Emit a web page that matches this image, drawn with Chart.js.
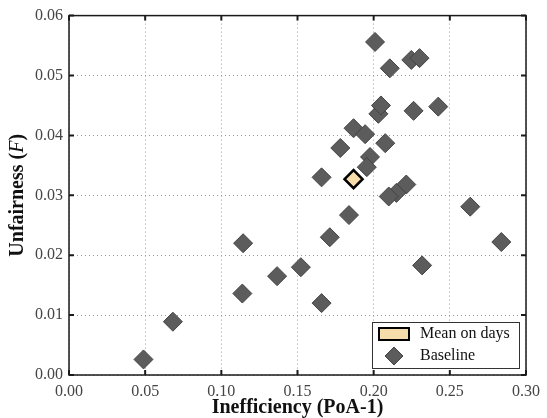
<!DOCTYPE html>
<html>
<head>
<meta charset="utf-8">
<script src="https://cdn.jsdelivr.net/npm/chart.js@4.4.1/dist/chart.umd.min.js"></script>
<style>
  html, body { margin: 0; padding: 0; background: #fff; }
  #wrap { width: 547px; height: 418px; }
</style>
</head>
<body>
<div id="wrap"><canvas id="chart" width="547" height="418"></canvas></div>
<script>
// Baseline runs: inefficiency (PoA-1) against unfairness F
var baselineX = [0.0489, 0.0682, 0.1138, 0.1143, 0.1366, 0.1522, 0.1658, 0.1712, 0.1838, 0.2318,
                 0.2634, 0.2838, 0.1868, 0.1944, 0.1781, 0.2076, 0.1976, 0.1955, 0.1658, 0.2214,
                 0.2149, 0.2099, 0.2031, 0.2048, 0.2262, 0.2424, 0.2009, 0.2106, 0.2247, 0.2301];
var baselineY = [0.0026, 0.0089, 0.0136, 0.0220, 0.0165, 0.0180, 0.0120, 0.0230, 0.0267, 0.0183,
                 0.0281, 0.0222, 0.0412, 0.0402, 0.0379, 0.0387, 0.0364, 0.0347, 0.0330, 0.0318,
                 0.0304, 0.0298, 0.0436, 0.0450, 0.0441, 0.0448, 0.0556, 0.0512, 0.0526, 0.0529];
var meanX = [0.1868];
var meanY = [0.0327];
var xTicks = [0, 0.05, 0.10, 0.15, 0.20, 0.25, 0.30];
var yTicks = [0, 0.01, 0.02, 0.03, 0.04, 0.05, 0.06];

var SERIF = '"Liberation Serif", "DejaVu Serif", serif';

function toPoints(xs, ys) {
    return xs.map(function(x, i) { return { x: x, y: ys[i] }; });
}

// frame on all four sides with inward ticks (matplotlib classic look)
var frame = {
    id: 'frame',
    afterDatasetsDraw: function(chart) {
        var ctx = chart.ctx, a = chart.chartArea;
        var sx = chart.scales.x, sy = chart.scales.y;
        ctx.save();
        ctx.strokeStyle = '#1a1a1a';
        ctx.lineWidth = 1.5;
        ctx.strokeRect(a.left, a.top, a.right - a.left, a.bottom - a.top);
        ctx.lineWidth = 2;
        ctx.beginPath();
        xTicks.forEach(function(v) {
            var px = sx.getPixelForValue(v);
            ctx.moveTo(px, a.bottom); ctx.lineTo(px, a.bottom - 5);
            ctx.moveTo(px, a.top); ctx.lineTo(px, a.top + 5);
        });
        yTicks.forEach(function(v) {
            var py = sy.getPixelForValue(v);
            ctx.moveTo(a.left, py); ctx.lineTo(a.left + 5, py);
            ctx.moveTo(a.right, py); ctx.lineTo(a.right - 5, py);
        });
        ctx.stroke();
        ctx.restore();
    }
};

// y title with the italic F
var yTitle = {
    id: 'yTitle',
    afterDraw: function(chart) {
        var ctx = chart.ctx, a = chart.chartArea;
        var parts = [
            { t: 'Unfairness (', f: 'bold 20px ' + SERIF },
            { t: 'F', f: 'italic 20px ' + SERIF },
            { t: ')', f: 'bold 20px ' + SERIF }
        ];
        ctx.save();
        ctx.translate(18, (a.top + a.bottom) / 2);
        ctx.rotate(-Math.PI / 2);
        ctx.fillStyle = '#111';
        ctx.textBaseline = 'middle';
        var total = 0;
        parts.forEach(function(p) { ctx.font = p.f; p.w = ctx.measureText(p.t).width; total += p.w; });
        var x = -total / 2;
        parts.forEach(function(p) { ctx.font = p.f; ctx.fillText(p.t, x, 0); x += p.w; });
        ctx.restore();
    }
};

// boxed legend in the lower right corner
var boxLegend = {
    id: 'boxLegend',
    afterDraw: function(chart) {
        var ctx = chart.ctx, a = chart.chartArea;
        var ds = chart.data.datasets;
        var w = 147, h = 46;
        var x0 = a.right - 7 - w, y0 = a.bottom - 7 - h;
        ctx.save();
        ctx.fillStyle = '#fff';
        ctx.fillRect(x0, y0, w, h);
        ctx.strokeStyle = '#333';
        ctx.lineWidth = 1;
        ctx.strokeRect(x0 + 0.5, y0 + 0.5, w, h);

        // mean: patch swatch
        ctx.fillStyle = ds[0].backgroundColor;
        ctx.fillRect(x0 + 7, y0 + 6, 30, 12);
        ctx.strokeStyle = '#000';
        ctx.lineWidth = 2;
        ctx.strokeRect(x0 + 7, y0 + 6, 30, 12);

        // baseline: diamond marker
        var cx = x0 + 22, cy = y0 + 34, r = 9;
        ctx.beginPath();
        ctx.moveTo(cx, cy - r); ctx.lineTo(cx + r, cy); ctx.lineTo(cx, cy + r); ctx.lineTo(cx - r, cy);
        ctx.closePath();
        ctx.fillStyle = ds[1].backgroundColor;
        ctx.fill();
        ctx.strokeStyle = ds[1].borderColor;
        ctx.lineWidth = 1;
        ctx.stroke();

        ctx.fillStyle = '#111';
        ctx.font = '16px ' + SERIF;
        ctx.textBaseline = 'middle';
        ctx.fillText(ds[0].label, x0 + 48, y0 + 12);
        ctx.fillText(ds[1].label, x0 + 48, y0 + 34);
        ctx.restore();
    }
};

new Chart(document.getElementById('chart'), {
    type: 'scatter',
    data: {
        datasets: [{
            label: 'Mean on days',
            data: toPoints(meanX, meanY),
            pointStyle: 'rectRot',
            pointRadius: 9,
            pointHoverRadius: 9,
            backgroundColor: '#f6dcab',
            borderColor: '#000',
            borderWidth: 2.5
        }, {
            label: 'Baseline',
            data: toPoints(baselineX, baselineY),
            pointStyle: 'rectRot',
            pointRadius: 9.5,
            pointHoverRadius: 9.5,
            backgroundColor: '#5c5c5c',
            borderColor: '#444',
            borderWidth: 1
        }]
    },
    options: {
        responsive: false,
        animation: false,
        events: [],
        layout: { padding: { left: 0, right: 16, top: 14, bottom: 0 } },
        plugins: { legend: { display: false }, tooltip: { enabled: false } },
        scales: {
            x: {
                type: 'linear',
                min: 0, max: 0.30,
                afterBuildTicks: function(scale) { scale.ticks = xTicks.map(function(v) { return { value: v }; }); },
                afterFit: function(scale) { scale.height = 43; },
                grid: { color: '#9a9a9a', lineWidth: 1, drawTicks: false },
                border: { display: false, dash: [1, 3] },
                ticks: {
                    padding: 7,
                    color: '#444',
                    font: { family: SERIF, size: 16 },
                    callback: function(v) { return v.toFixed(2); }
                },
                title: {
                    display: true,
                    text: 'Inefficiency (PoA-1)',
                    color: '#111',
                    padding: { top: 0, bottom: 0 },
                    font: { family: SERIF, size: 20, weight: 'bold', lineHeight: 1 }
                }
            },
            y: {
                type: 'linear',
                min: 0, max: 0.06,
                afterBuildTicks: function(scale) { scale.ticks = yTicks.map(function(v) { return { value: v }; }); },
                afterFit: function(scale) { scale.width = 69; },
                grid: { color: '#9a9a9a', lineWidth: 1, drawTicks: false },
                border: { display: false, dash: [1, 3] },
                ticks: {
                    padding: 6,
                    color: '#444',
                    font: { family: SERIF, size: 16 },
                    callback: function(v) { return v.toFixed(2); }
                }
            }
        }
    },
    plugins: [frame, yTitle, boxLegend]
});
</script>
</body>
</html>
